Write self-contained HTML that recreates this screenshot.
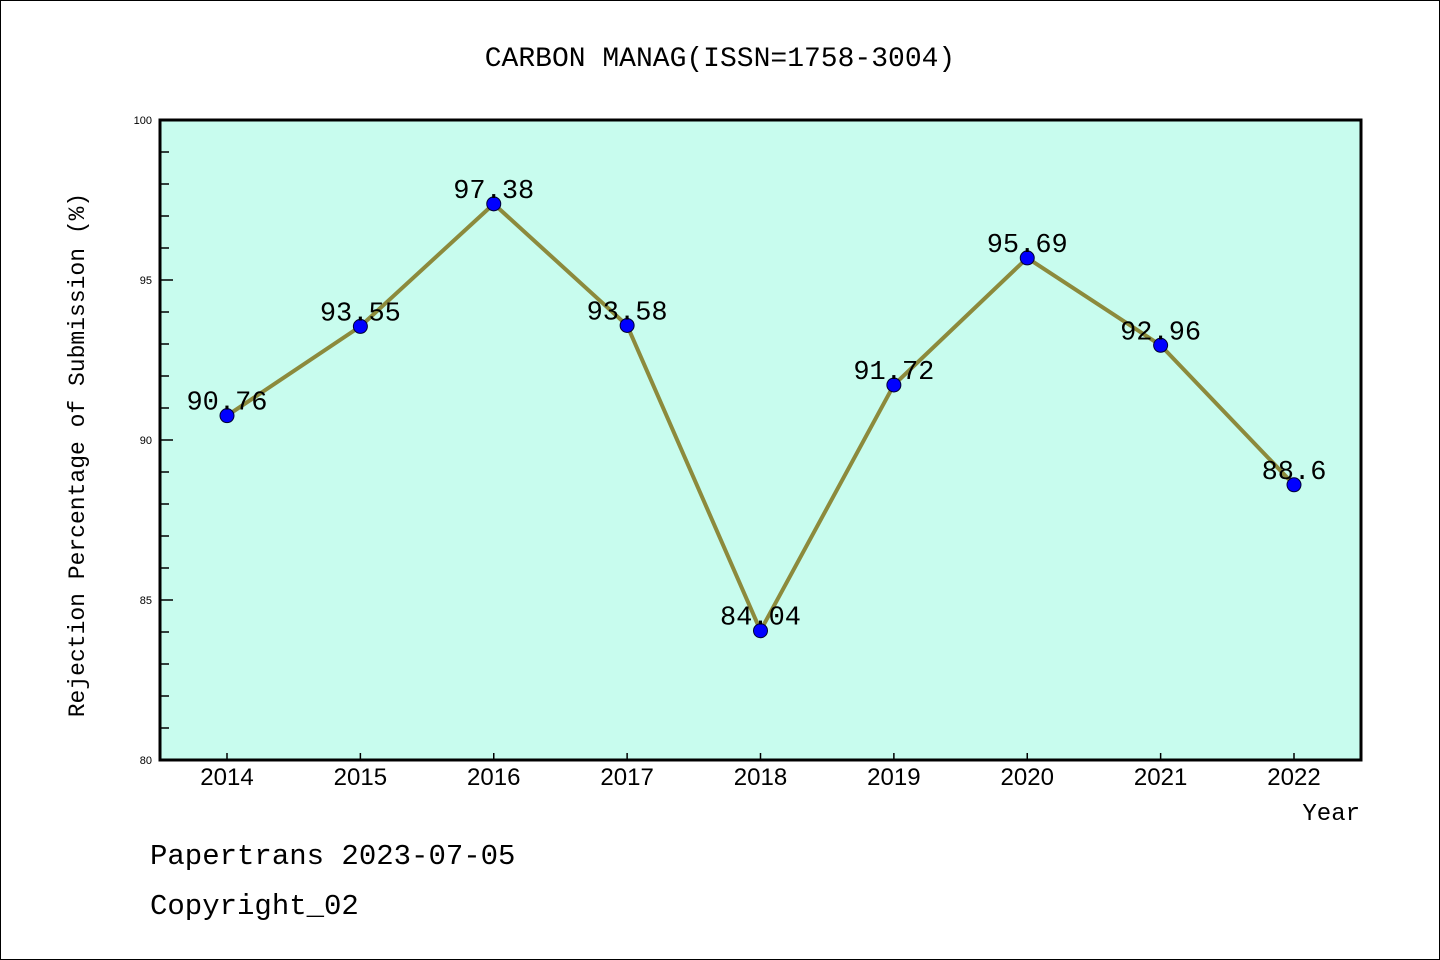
<!DOCTYPE html>
<html><head><meta charset="utf-8"><style>
html,body{margin:0;padding:0;background:#fff}
svg{display:block}
text{font-family:"Liberation Mono","DejaVu Sans Mono",monospace;fill:#000}
</style></head><body>
<svg id="chart" width="1440" height="960" xmlns="http://www.w3.org/2000/svg">
<rect x="0.5" y="0.5" width="1439" height="959" fill="#fff" stroke="#000" stroke-width="1"/>
<text x="720" y="66" text-anchor="middle" font-size="28">CARBON MANAG(ISSN=1758-3004)</text>
<rect x="160" y="120" width="1201" height="640" fill="#c8fcee"/>
<g id="yaxis"></g>
<g id="xaxis"></g>
<g id="series"></g>
<rect x="160" y="120" width="1201" height="640" fill="none" stroke="#000" stroke-width="3"/>
<text transform="translate(84,455) rotate(-90)" text-anchor="middle" font-size="23">Rejection Percentage of Submission (%)</text>
<text x="1360" y="820" text-anchor="end" font-size="24">Year</text>
<text x="150" y="864" font-size="29">Papertrans 2023-07-05</text>
<text x="150" y="914" font-size="29">Copyright_02</text>
</svg>
<script>
const years = ["2014","2015","2016","2017","2018","2019","2020","2021","2022"];
const values = [90.76, 93.55, 97.38, 93.58, 84.04, 91.72, 95.69, 92.96, 88.6];
const valueLabels = ["90.76","93.55","97.38","93.58","84.04","91.72","95.69","92.96","88.6"];
const yTicks = [80, 85, 90, 95, 100];
const NS = "http://www.w3.org/2000/svg";
const yMin = 80, yMax = 100, plotTop = 120, plotBottom = 760;
function ys(v){ return plotBottom - (v - yMin) / (yMax - yMin) * (plotBottom - plotTop); }
function xs(i){ return 227 + i * (1294 - 227) / (years.length - 1); }
function mk(tag, attrs, parent){ const e = document.createElementNS(NS, tag); for (const k in attrs) e.setAttribute(k, attrs[k]); parent.appendChild(e); return e; }
const ya = document.getElementById('yaxis'), xa = document.getElementById('xaxis'), sg = document.getElementById('series');
for (let v = yMin; v <= yMax; v++) {
  const major = yTicks.includes(v);
  const t = mk('line', {x1:160, x2:160 + (major ? 13 : 9), y1:ys(v), y2:ys(v), stroke:'#000', 'stroke-width':1.5}, ya);
  
  
  if (major) {
    const l = mk('text', {x:152, y:ys(v) + 4, 'text-anchor':'end', 'font-size':11, style:'font-family:"Liberation Sans",sans-serif'}, ya);
    l.textContent = v;
    
    
  }
}
years.forEach((y, i) => {
  const t = mk('line', {x1:xs(i), x2:xs(i), y1:760, y2:753, stroke:'#000', 'stroke-width':1.5}, xa);
  
  
  const l = mk('text', {x:xs(i), y:785, 'text-anchor':'middle', 'font-size':24, style:'font-family:"Liberation Sans",sans-serif'}, xa);
  l.textContent = y;
  
  
});
const pts = values.map((v, i) => xs(i) + ',' + ys(v)).join(' ');
const line = mk('polyline', {points:pts, fill:'none', stroke:'#8c8a3c', 'stroke-width':4, 'stroke-linejoin':'round'}, sg);


values.forEach((v, i) => {
  const c = mk('circle', {cx:xs(i), cy:ys(v), r:7, fill:'#0000ff', stroke:'#000033', 'stroke-width':1}, sg);
  
  
  const l = mk('text', {x:xs(i), y:ys(v) - 6, 'text-anchor':'middle', 'font-size':27}, sg);
  l.textContent = valueLabels[i];
  
  
});
</script>
</body></html>
